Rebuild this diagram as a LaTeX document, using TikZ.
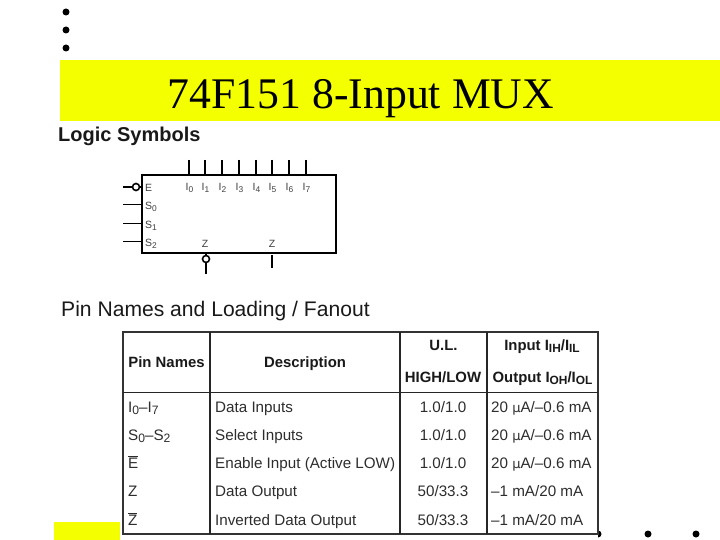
\documentclass[tikz,border=0pt]{standalone}
\usepackage{fontspec}
\setmainfont{Liberation Sans}
\newfontfamily\titlefont{Liberation Serif}
\newfontfamily\symf{DejaVu Sans}
\definecolor{slideyellow}{RGB}{244,255,0}
\definecolor{tabletext}{RGB}{45,45,45}
\newcommand{\ovl}[1]{$\overline{\mbox{#1}}$}
\newcommand{\subs}[1]{\raisebox{-0.3ex}{\scalebox{0.8}{#1}}}
\tikzset{
  x=1pt,y=-1pt,
  bullet/.style={circle,fill=black,inner sep=0,minimum size=7pt},
  pinlabel/.style={font=\fontsize{10.5}{11}\selectfont,text=black!75,inner sep=0},
  pinline/.style={line width=1.5pt,black},
  bubble/.style={circle,draw=black,line width=1.6pt,fill=white,inner sep=0,minimum size=7pt},
  chipbox/.style={draw=black,line width=1.8pt,fill=white,minimum width=194pt,minimum height=78pt,inner sep=0},
  head/.style={font=\bfseries\fontsize{14.9}{16}\selectfont,inner sep=0,text=black!90,anchor=base},
  cellt/.style={font=\fontsize{15.2}{16}\selectfont,inner sep=0,text=tabletext,anchor=base},
  rowleft/.style={cellt,anchor=base west},
  grid/.style={line width=1.2pt,black!85},
}
\begin{document}
\begin{tikzpicture}
\useasboundingbox (0,0) rectangle (720,540);
% bullets
\foreach \n/\yy in {a/12,b/30,c/48}{\node[bullet] (dot\n) at (66,\yy) {};}
\foreach \n/\xx in {e/598,f/648,g/696}{\node[bullet] (dot\n) at (\xx,534) {};}
% yellow bands
\fill[slideyellow] (60,60) rectangle (720,121);
\fill[slideyellow] (54,522) rectangle (120,540);
\node[font=\titlefont\fontsize{43.7}{48}\selectfont,inner sep=0] (title) at (361,99) {74F151 8-Input MUX};
\node[font=\bfseries\fontsize{20}{22}\selectfont,anchor=west,inner sep=0,text=black!90] (logic) at (58,136) {Logic Symbols};
\node[font=\fontsize{21.1}{23}\selectfont,anchor=west,inner sep=0,text=black!90] (pinhead) at (61,311.5) {Pin Names and Loading / Fanout};
% chip
\node[chipbox] (chip) at (239,214) {};
\foreach \i/\xx in {0/189,1/205,2/222,3/239,4/256,5/272,6/289,7/306}{
  \coordinate (in\i) at (\xx,160);
  \coordinate (pin\i) at (\xx,175);
  \draw[pinline] (in\i) -- (pin\i);
  \node[pinlabel] (lab\i) at (\xx+0.5,188) {I\subs{\i}};
}
\coordinate (ein) at (123,187);
\node[bubble] (ebub) at (136,187) {};
\draw[line width=1.6pt] (ein) -- (ebub);
\draw[line width=1.6pt] (ebub) -- (chip.west |- ebub);
\node[pinlabel,anchor=west] (elab) at (145,188) {E};
\foreach \i/\yy in {0/204,1/223,2/241}{
  \coordinate (sin\i) at (123,\yy);
  \coordinate (sp\i) at (142,\yy);
  \draw[line width=.9pt] (sin\i) -- (sp\i);
  \node[pinlabel,anchor=west] (slab\i) at (145,\yy+3) {S\subs{\i}};
}
\node[pinlabel] (zn) at (205,244) {Z};
\node[pinlabel] (zt) at (272,244) {Z};
\node[bubble] (zbub) at (206,259) {};
\coordinate (zend) at (206,274);
\draw[line width=1.6pt] (chip.south -| zbub) -- (zbub);
\draw[line width=1.5pt] (zbub) -- (zend);
\coordinate (zb) at (272,255);
\coordinate (ze) at (272,268);
\draw[pinline] (zb) -- (ze);
% table
\fill[white] (123,332) rectangle (598,540);
\draw[line width=1.3pt,black!80] (123,332) rectangle (598,534);
\draw[grid] (210,332) -- (210,534);
\draw[grid] (400,332) -- (400,534);
\draw[grid] (487,332) -- (487,534);
\draw[grid,line width=1.5pt] (123,392.5) -- (598,392.5);
\node[head] (h1) at (166.5,367) {Pin Names};
\node[head] (h2) at (305,367) {Description};
\node[head] (h3) at (443.5,350.5) {U.L.};
\node[head] (h4) at (443,382) {HIGH/LOW};
\node[head] (h5) at (542,350.5) {Input I\subs{IH}/I\subs{IL}};
\node[head] (h6) at (542.5,382) {Output I\subs{OH}/I\subs{OL}};
% rows
\node[rowleft] (p1) at (128,412) {I\subs{0}–I\subs{7}};
\node[rowleft] (p2) at (128,440) {S\subs{0}–S\subs{2}};
\node[rowleft] (p3) at (128,468) {\ovl{E}};
\node[rowleft] (p4) at (128,496.5) {Z};
\node[rowleft] (p5) at (128,525) {\ovl{Z}};
\node[rowleft] (d1) at (215,412) {Data Inputs};
\node[rowleft] (d2) at (215,440) {Select Inputs};
\node[rowleft] (d3) at (215,468) {Enable Input (Active LOW)};
\node[rowleft] (d4) at (215,496.5) {Data Output};
\node[rowleft] (d5) at (215,525) {Inverted Data Output};
\node[cellt] (u1) at (443,412) {1.0/1.0};
\node[cellt] (u2) at (443,440) {1.0/1.0};
\node[cellt] (u3) at (443,468) {1.0/1.0};
\node[cellt] (u4) at (443,496.5) {50/33.3};
\node[cellt] (u5) at (443,525) {50/33.3};
\node[rowleft] (c1) at (491,412) {20 {\fontsize{13}{14}\selectfont\symf µ}A/–0.6 mA};
\node[rowleft] (c2) at (491,440) {20 {\fontsize{13}{14}\selectfont\symf µ}A/–0.6 mA};
\node[rowleft] (c3) at (491,468) {20 {\fontsize{13}{14}\selectfont\symf µ}A/–0.6 mA};
\node[rowleft] (c4) at (491,496.5) {–1 mA/20 mA};
\node[rowleft] (c5) at (491,525) {–1 mA/20 mA};
\end{tikzpicture}
\end{document}
